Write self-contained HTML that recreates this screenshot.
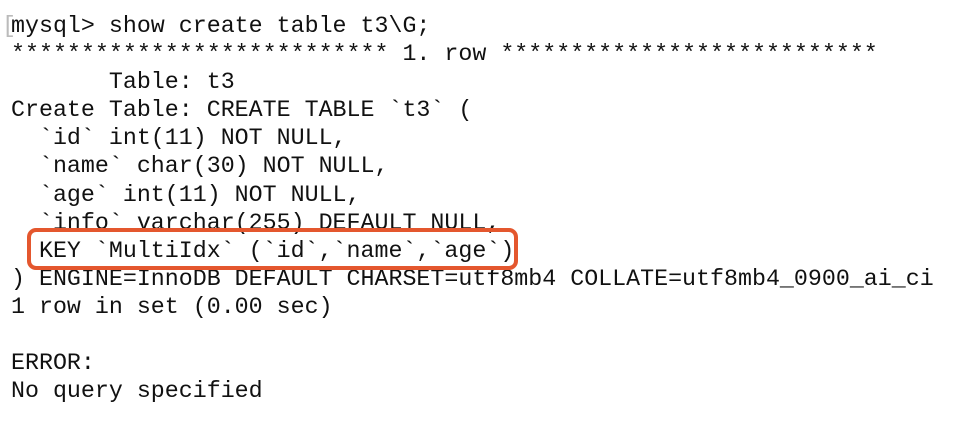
<!DOCTYPE html>
<html><head><style>
html,body{margin:0;padding:0;background:#fff;width:976px;height:428px;overflow:hidden}
pre{position:absolute;left:11px;top:12px;margin:0;font-family:"Liberation Mono",monospace;font-size:23.3px;line-height:28.1px;color:#111}
.br{position:absolute;left:2px;top:12px;font-family:"Liberation Mono",monospace;font-size:23.3px;line-height:28.1px;color:#bbb}
.box{position:absolute;left:27px;top:228px;width:483px;height:34px;border:4px solid #e4572e;border-radius:9px}
</style></head><body>
<div class="br">[</div>
<pre>mysql&gt; show create table t3\G;
*************************** 1. row ***************************
       Table: t3
Create Table: CREATE TABLE `t3` (
  `id` int(11) NOT NULL,
  `name` char(30) NOT NULL,
  `age` int(11) NOT NULL,
  `info` varchar(255) DEFAULT NULL,
  KEY `MultiIdx` (`id`,`name`,`age`)
) ENGINE=InnoDB DEFAULT CHARSET=utf8mb4 COLLATE=utf8mb4_0900_ai_ci
1 row in set (0.00 sec)

ERROR:
No query specified</pre>
<div class="box"></div>
</body></html>
